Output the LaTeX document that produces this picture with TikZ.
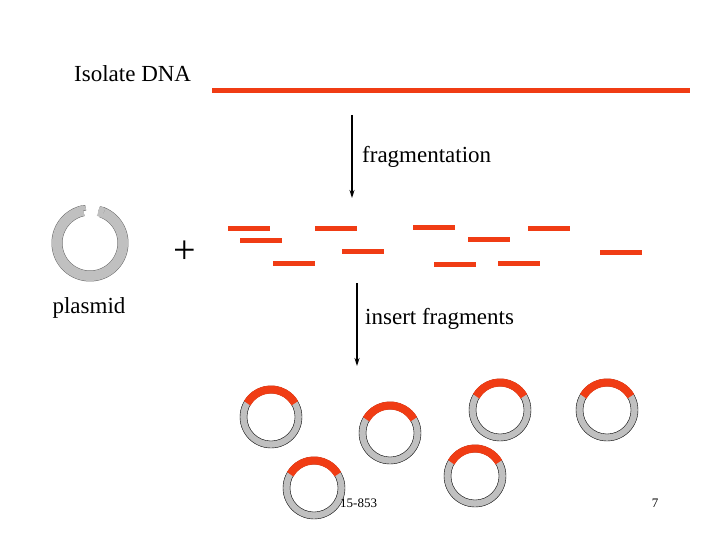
\documentclass[tikz,border=0pt]{standalone}
\usepackage{fontspec}
\setmainfont{Liberation Serif}
\usetikzlibrary{arrows.meta}
\definecolor{dna}{RGB}{240,60,20}
\definecolor{pgray}{RGB}{192,192,192}
\tikzset{frag/.style={draw=dna,line width=5pt},
  lbl/.style={font=\fontsize{23}{27}\selectfont,inner sep=0pt},
  arr/.style={-{Stealth[length=8pt,width=5pt]},line width=1.2pt}}
\newcommand{\smallplasmid}[3]{%
  \fill[pgray,even odd rule] (#1,#2) circle (31) circle (24);
  \draw[line width=0.4pt] (#1,#2) circle (31) circle (24);
  \draw[dna,line width=8pt] ([shift={(-150:27.5)}]#1,#2) arc (-150:-30:27.5);}
\begin{document}
\begin{tikzpicture}[x=1pt,y=-1pt]
\useasboundingbox (0,0) rectangle (720,540);
\node[lbl,anchor=west] (iso) at (74,74) {Isolate DNA};
\coordinate (d1) at (212,91); \coordinate (d2) at (690,91);
\draw[frag] (d1) -- (d2);
\coordinate (a1) at (352,115); \coordinate (a2) at (352,198);
\draw[arr] (a1) -- (a2);
\node[lbl,anchor=west] (fr) at (362,157) {fragmentation};
\foreach \x/\y in {228/229,240/240,273/263,315/229,342/251,413/228,434/264,468/239,498/263,528/229,600/252}
  \draw[frag] (\x,\y) -- ++(42,0);
% big plasmid
\coordinate (pc) at (90,243);
\draw[black!60,line width=11pt] ([shift={(-70:33)}]pc) arc (-70:258:33);
\draw[pgray,line width=10pt] ([shift={(-70:33)}]pc) arc (-70:258:33);
\draw[black!60,line width=5.6pt] ([shift={(-75:35.5)}]pc) arc (-75:-66:35.5);
\draw[pgray,line width=4.6pt] ([shift={(-75:35.5)}]pc) arc (-75:-66:35.5);
\draw[black!60,line width=5.6pt] ([shift={(255:35.5)}]pc) arc (255:263:35.5);
\draw[pgray,line width=4.6pt] ([shift={(255:35.5)}]pc) arc (255:263:35.5);
\draw[pgray,line width=10pt] ([shift={(-75:33)}]pc) arc (-75:-66:33);
\draw[pgray,line width=10pt] ([shift={(253:33)}]pc) arc (253:258:33);
\node[lbl] (plus) at (185,252) {\fontsize{40}{40}\selectfont +};
\node[lbl] (pl) at (89,308) {plasmid};
\coordinate (b1) at (357,283); \coordinate (b2) at (357,366);
\draw[arr] (b1) -- (b2);
\node[lbl,anchor=west] (ins) at (365,319) {insert fragments};
\smallplasmid{271}{417}{}
\smallplasmid{390}{433}{}
\smallplasmid{500}{410}{}
\smallplasmid{607}{410}{}
\smallplasmid{314}{488}{}
\smallplasmid{475}{476}{}
\node[font=\fontsize{13}{15}\selectfont,inner sep=0pt,anchor=west] (num) at (340,503) {15-853};
\node[font=\fontsize{13}{15}\selectfont,inner sep=0pt] (pg) at (655,503) {7};
\end{tikzpicture}
\end{document}
